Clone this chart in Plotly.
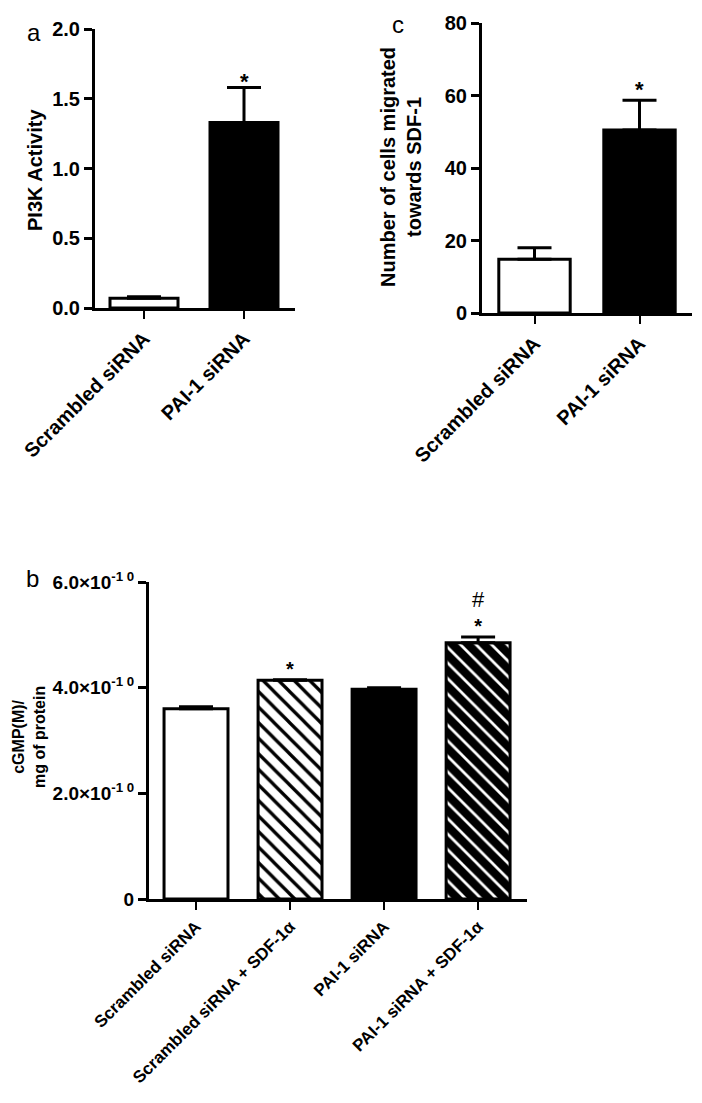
import plotly.graph_objects as go

# ---------------- data ----------------
cats_ac = ["Scrambled siRNA", "PAI-1 siRNA"]

pi3k_vals = [0.07, 1.33]
pi3k_err = [0.01, 0.25]
pi3k_ticks = [0.0, 0.5, 1.0, 1.5, 2.0]
pi3k_ticktext = ["0.0", "0.5", "1.0", "1.5", "2.0"]

mig_vals = [14.8, 50.5]
mig_err = [3.2, 8.2]
mig_ticks = [0, 20, 40, 60, 80]

cats_b = ["Scrambled siRNA", "Scrambled siRNA + SDF-1α", "PAI-1 siRNA", "PAI-1 siRNA + SDF-1α"]
cgmp_vals = [3.60e-10, 4.14e-10, 3.97e-10, 4.85e-10]
cgmp_err = [0.04e-10, 0.01e-10, 0.03e-10, 0.11e-10]
cgmp_ticks = [0, 2.0e-10, 4.0e-10, 6.0e-10]
cgmp_ticktext = ["0", "2.0×10<sup>-1 0</sup>", "4.0×10<sup>-1 0</sup>", "6.0×10<sup>-1 0</sup>"]

sig_b = ["", "*", "", "*"]
hash_b = ["", "", "", "#"]

# styles per bar of panel b
b_fill = ["white", "white", "black", "black"]
b_shape = ["", "\\", "", "\\"]
b_fg = ["black", "black", "black", "white"]
b_solid = [0.3, 0.3, 0.3, 0.25]

# ---------------- layout helpers ----------------
# The page body has an 8 px margin, so the figure is made 16 px smaller and all
# page-pixel positions are shifted by 8 px.
OFF = 8
W, H = 702 - 2 * OFF, 1103 - 2 * OFF
FONT = "Liberation Sans, Arial, sans-serif"


def px_x(a):
    return (a - OFF) / W


def px_y(a):
    return 1 - (a - OFF) / H


def xd(a, b):
    return [px_x(a), px_x(b)]


def yd(top, bottom):
    return [px_y(bottom), px_y(top)]


fig = go.Figure()

# Panel a
fig.add_trace(go.Bar(
    x=cats_ac, y=pi3k_vals, xaxis="x", yaxis="y", width=0.68,
    marker=dict(color=["white", "black"], line=dict(color="black", width=3)),
    error_y=dict(type="data", array=pi3k_err, arrayminus=[0, 0], symmetric=False,
                 color="black", thickness=3, width=17),
    showlegend=False,
))

# Panel c
fig.add_trace(go.Bar(
    x=cats_ac, y=mig_vals, xaxis="x2", yaxis="y2", width=0.68,
    marker=dict(color=["white", "black"], line=dict(color="black", width=3)),
    error_y=dict(type="data", array=mig_err, arrayminus=[0, 0], symmetric=False,
                 color="black", thickness=3, width=17),
    showlegend=False,
))

# Panel b (one trace per bar so each gets its own pattern)
for c, v, e, fill, shp, fg, sol in zip(cats_b, cgmp_vals, cgmp_err, b_fill, b_shape, b_fg, b_solid):
    pat = dict(shape=shp, fgcolor=fg, bgcolor=fill, size=11, solidity=sol, fillmode="replace")
    fig.add_trace(go.Bar(
        x=[c], y=[v], xaxis="x3", yaxis="y3", width=0.68,
        marker=dict(color=fill, line=dict(color="black", width=3), pattern=pat),
        error_y=dict(type="data", array=[e], arrayminus=[0], symmetric=False,
                     color="black", thickness=3, width=17),
        showlegend=False,
    ))

axis_common = dict(showline=True, linecolor="black", linewidth=3, showgrid=False,
                   zeroline=False, ticks="outside", tickcolor="black",
                   automargin=False)

tick_big = dict(family=FONT, size=20, color="black", weight="bold")
tick_b = dict(family=FONT, size=17, color="black", weight="bold")
tick_by = dict(family=FONT, size=19, color="black", weight="bold")

fig.update_layout(
    width=W, height=H,
    margin=dict(l=0, r=0, t=0, b=0),
    paper_bgcolor="white", plot_bgcolor="white",
    font=dict(family=FONT, color="black"),
    barmode="overlay",
    xaxis=dict(domain=xd(95, 295), anchor="y", range=[-0.49, 1.51],
               tickangle=-45, tickfont=tick_big, ticklen=8, tickwidth=2, **axis_common),
    yaxis=dict(domain=yd(29, 308), anchor="x", range=[0, 2.0], tickvals=pi3k_ticks,
               ticktext=pi3k_ticktext, tickfont=tick_big, ticklen=8, tickwidth=3, **axis_common),
    xaxis2=dict(domain=xd(482, 692), anchor="y2", range=[-0.5, 1.5],
                tickangle=-45, tickfont=tick_big, ticklen=8, tickwidth=2, **axis_common),
    yaxis2=dict(domain=yd(23, 313), anchor="x2", range=[0, 80], tickvals=mig_ticks,
                tickfont=tick_big, ticklen=8, tickwidth=3, **axis_common),
    xaxis3=dict(domain=xd(149, 527), anchor="y3", range=[-0.5, 3.52],
                tickangle=-45, tickfont=tick_b, ticklen=8, tickwidth=2, **axis_common),
    yaxis3=dict(domain=yd(582, 899), anchor="x3", range=[0, 6.0e-10], tickvals=cgmp_ticks,
                ticktext=cgmp_ticktext, tickfont=tick_by, ticklen=8, tickwidth=3, **axis_common),
)

ann = []
# significance marks
ann.append(dict(x=cats_ac[1], y=pi3k_vals[1] + pi3k_err[1], xref="x", yref="y",
                text="*", showarrow=False, yanchor="bottom", yshift=-8,
                font=dict(family=FONT, size=22, color="black", weight="bold")))
ann.append(dict(x=cats_ac[1], y=mig_vals[1] + mig_err[1], xref="x2", yref="y2",
                text="*", showarrow=False, yanchor="bottom", yshift=-4,
                font=dict(family=FONT, size=22, color="black", weight="bold")))
for c, v, e, s, h in zip(cats_b, cgmp_vals, cgmp_err, sig_b, hash_b):
    if not s and not h:
        continue
    parts = []
    if h:
        parts.append('<span style="font-size:22px">' + h + "</span>")
    if s:
        parts.append("<b>" + s + "</b>")
    ann.append(dict(x=c, y=v + e, xref="x3", yref="y3", text="<br>".join(parts),
                    showarrow=False, yanchor="bottom", yshift=-1, borderpad=0,
                    font=dict(family=FONT, size=20, color="black")))

# axis titles
title_common = dict(xref="paper", yref="paper", textangle=-90, showarrow=False,
                    xanchor="center", yanchor="middle")
ann.append(dict(x=px_x(35), y=px_y(170), text="<b>PI3K Activity</b>",
                font=dict(family=FONT, size=20, color="black"), **title_common))
ann.append(dict(x=px_x(401), y=px_y(167), text="<b>Number of cells migrated<br>towards SDF-1</b>",
                font=dict(family=FONT, size=20, color="black"), **title_common))
ann.append(dict(x=px_x(29), y=px_y(737), text="<b>cGMP(M)/<br>mg of protein</b>",
                font=dict(family=FONT, size=16, color="black"), **title_common))

# panel letters
for letter, lx, ly in [("a", 34, 33), ("c", 398, 25), ("b", 32, 578)]:
    ann.append(dict(x=px_x(lx), y=px_y(ly), xref="paper", yref="paper", text=letter,
                    showarrow=False, xanchor="center", yanchor="middle", borderpad=0,
                    font=dict(family=FONT, size=24, color="black")))

fig.update_layout(annotations=ann)

fig.write_html("out.html")
